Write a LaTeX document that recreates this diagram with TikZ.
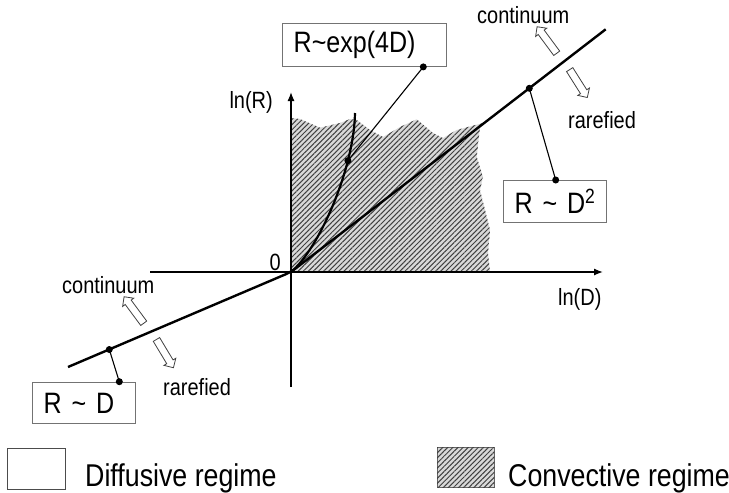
\documentclass[tikz,border=0pt]{standalone}
\usepackage{fontspec}
\setmainfont[FakeStretch=0.85]{Liberation Sans}
\usetikzlibrary{calc,patterns.meta,shapes.arrows,arrows.meta}
\tikzset{
  lbl/.style={inner sep=0pt, font=\fontsize{23.5}{26}\selectfont},
  axlbl/.style={inner sep=0pt, font=\fontsize{23.5}{26}\selectfont},
  legtxt/.style={inner sep=0pt, font=\fontsize{31.5}{34}\selectfont},
  eqbox/.style={draw=black!55, line width=0.9pt, fill=white, anchor=north west, align=left,
    inner xsep=11.5pt, inner ysep=0pt, font=\fontsize{29.5}{32}\selectfont},
  hatch/.style={fill=black!15, postaction={pattern={Lines[angle=45,distance=3.6pt,line width=1pt]}, pattern color=black!75}},
  dot/.style={circle, fill=black, inner sep=0pt, minimum size=7pt},
  conn/.style={line width=1.1pt},
  hollow/.style={single arrow, draw=black!75, fill=white, line width=0.8pt, minimum height=33pt,
    minimum width=0pt, single arrow head extend=3.2pt, single arrow head indent=0pt, inner sep=3.3pt,
    single arrow tip angle=90},
  axis/.style={line width=1.3pt, -{Latex[length=9pt,width=7pt]}},
  thick line/.style={line width=2.4pt}
}
\begin{document}
\begin{tikzpicture}[x=1pt,y=-1pt]
\useasboundingbox (0,0) rectangle (729,493);
% convective region
\path[hatch] (291,118) -- (300,119) -- (320,127.7) -- (340,123) -- (350,119) -- (356.7,120) -- (370,130) -- (383,137) -- (400,127) -- (416.7,119.3) -- (433,133) -- (443,138) -- (456.7,130) -- (483,123) -- (480,127) -- (476.7,157) -- (483,177) -- (480,190) -- (490,230) -- (488,253) -- (490,272) -- (291,272) -- cycle;
% axes
\coordinate (O) at (291,272);
\coordinate (xl) at (150,272);
\coordinate (xr) at (603,272);
\coordinate (yb) at (291,387);
\coordinate (yt) at (291,92);
\draw[axis] (xl) -- (xr);
\draw[axis] (yb) -- (yt);
\node[axlbl, anchor=base east] (lnR) at (273,108) {ln(R)};
\node[axlbl, anchor=base west] (lnD) at (558,305) {ln(D)};
\node[axlbl, anchor=base east] (zero) at (281,270) {0};
% main line
\coordinate (L0) at (68,367);
\coordinate (L1) at (605.7,29.3);
\draw[thick line, rounded corners=6pt] (L0) -- (O) -- (L1);
\coordinate (dLow) at (109.3,349.5);
\coordinate (dUp) at (529.3,88.3);
% exp curve
\draw[line width=2.2pt] (O) .. controls (318,250) and (354,170) .. (355,113) coordinate[pos=0.74] (dExp);
% boxes
\node[eqbox, text width=141pt, minimum height=43.3pt] (bexp) at (281.7,22.7) {\mbox{R\textasciitilde exp(4D)}};
\node[eqbox, text width=80pt, minimum height=41.7pt] (bsq) at (502.7,180) {\mbox{R \textasciitilde\ D\textsuperscript{2}}};
\node[eqbox, text width=80.3pt, minimum height=41.6pt] (blin) at (31.7,381.7) {\mbox{R \textasciitilde\ D}};
% connectors
\coordinate (cExp) at ($(bexp.south west)+(141.6,0)$);
\coordinate (cSq) at ($(bsq.north west)+(53,0)$);
\coordinate (cLin) at ($(blin.north west)+(87.6,0)$);
\draw[conn] (cExp) -- (dExp);
\draw[conn] (cSq) -- (dUp);
\draw[conn] (cLin) -- (dLow);
\foreach \p in {cExp,dExp,cSq,dUp,cLin,dLow} \node[dot] at (\p) {};
% hollow arrows
\node[hollow, rotate=126.5] (aCu) at (548,41.5) {};
\node[hollow, rotate=-57.7] (aRu) at (577.5,82) {};
\node[hollow, rotate=126.5] (aCl) at (135,311.5) {};
\node[hollow, rotate=-59] (aRl) at (164,352) {};
\node[lbl, anchor=base west] (tCu) at (477,23) {continuum};
\node[lbl, anchor=base west] (tRu) at (568,128) {rarefied};
\node[lbl, anchor=base west] (tCl) at (62,293) {continuum};
\node[lbl, anchor=base west] (tRl) at (163,395) {rarefied};
% legend
\node[draw=black!70, line width=1pt, fill=white, minimum width=57.7pt, minimum height=40.7pt, anchor=north west, inner sep=0pt] (legD) at (7.3,448.3) {};
\node[legtxt, anchor=base west] (legDt) at (85,486) {Diffusive regime};
\node[draw=black!60, line width=0.8pt, hatch, minimum width=57.3pt, minimum height=40pt, anchor=north west, inner sep=0pt] (legC) at (436.7,447.3) {};
\node[legtxt, anchor=base west] (legCt) at (508,486) {Convective regime};
\end{tikzpicture}
\end{document}
